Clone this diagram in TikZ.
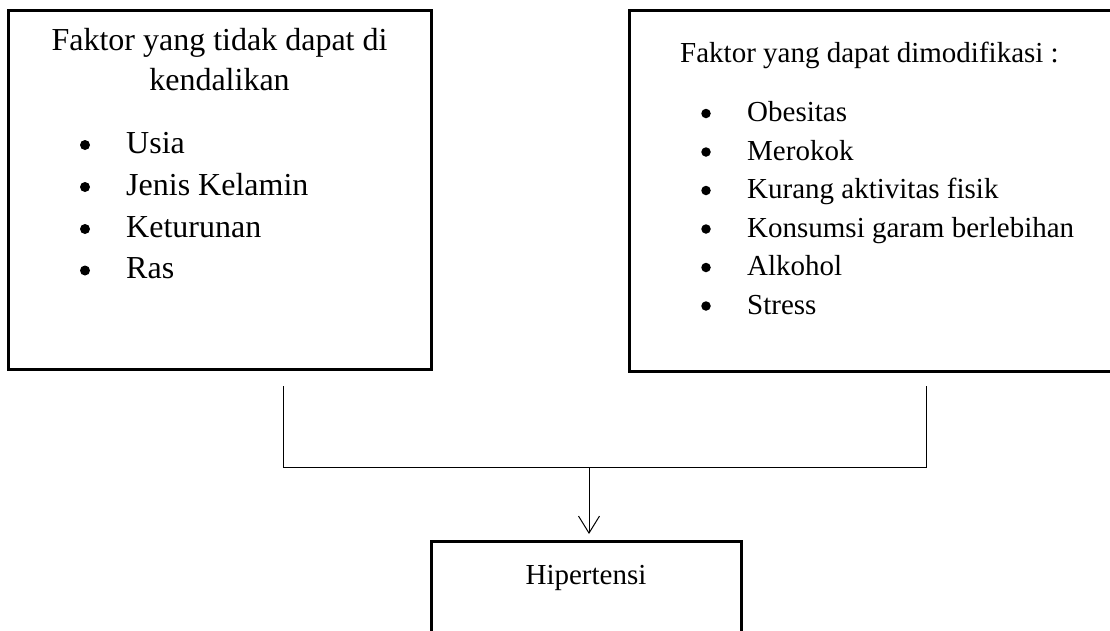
\documentclass[tikz,border=0pt]{standalone}
\usepackage{fontspec}
\setmainfont{Liberation Serif}
\usetikzlibrary{arrows.meta}
\begin{document}
\begin{tikzpicture}[x=1pt,y=-1pt,
  box/.style={draw=black,line width=3pt,rectangle,inner sep=0pt,outer sep=0pt},
  conn/.style={draw=black,line width=1pt},
  bigtxt/.style={font=\fontsize{32}{38}\selectfont,inner sep=0pt},
  smalltxt/.style={font=\fontsize{29}{35}\selectfont,inner sep=0pt},
  dotL/.style={circle,fill=black,inner sep=0pt,minimum size=10pt},
  dotR/.style={circle,fill=black,inner sep=0pt,minimum size=9.5pt}]
\useasboundingbox (0,0) rectangle (1110,630);
\clip (0,0) rectangle (1110,630);
% boxes
\node[box,minimum width=423pt,minimum height=359pt] (kiri) at (219.5,189.5) {};
\node[box,minimum width=496pt,minimum height=361pt] (kanan) at (877,190.5) {};
\node[box,minimum width=310pt,minimum height=119pt] (hip) at (586,600.5) {};
% left box text
\node[bigtxt,anchor=base] (kt1) at (219.5,50) {Faktor yang tidak dapat di};
\node[bigtxt,anchor=base] (kt2) at (219.5,90) {kendalikan};
\node[dotL] (kb1) at (85,145) {};
\node[dotL] (kb2) at (85,187) {};
\node[dotL] (kb3) at (85,229) {};
\node[dotL] (kb4) at (85,270.5) {};
\node[bigtxt,anchor=base west] (ki1) at (126,153) {Usia};
\node[bigtxt,anchor=base west] (ki2) at (126,195) {Jenis Kelamin};
\node[bigtxt,anchor=base west] (ki3) at (126,237) {Keturunan};
\node[bigtxt,anchor=base west] (ki4) at (126,278.5) {Ras};
% right box text
\node[smalltxt,anchor=base west] (rt) at (680,62) {Faktor yang dapat dimodifikasi :};
\node[dotR] (rb1) at (706,113.5) {};
\node[dotR] (rb2) at (706,152) {};
\node[dotR] (rb3) at (706,190.5) {};
\node[dotR] (rb4) at (706,229) {};
\node[dotR] (rb5) at (706,267.5) {};
\node[dotR] (rb6) at (706,306) {};
\node[smalltxt,anchor=base west] (ri1) at (747,121.5) {Obesitas};
\node[smalltxt,anchor=base west] (ri2) at (747,160) {Merokok};
\node[smalltxt,anchor=base west] (ri3) at (747,198.5) {Kurang aktivitas fisik};
\node[smalltxt,anchor=base west] (ri4) at (747,237) {Konsumsi garam berlebihan};
\node[smalltxt,anchor=base west] (ri5) at (747,275.5) {Alkohol};
\node[smalltxt,anchor=base west] (ri6) at (747,314) {Stress};
% bottom box text
\node[smalltxt,anchor=base] (ht) at (586,584) {Hipertensi};
% connectors
\coordinate (lt) at (283,386);
\coordinate (lb) at (283,467);
\coordinate (rtop) at (926,386);
\coordinate (rbot) at (926,467);
\coordinate (mid) at (589,467);
\coordinate (tip) at (589,534);
\draw[conn] (lt) -- (lb) -- (rbot) -- (rtop);
\draw[conn,-{Straight Barb[length=17pt,width=21pt,line width=1pt]}] (mid) -- (tip);
\end{tikzpicture}
\end{document}
